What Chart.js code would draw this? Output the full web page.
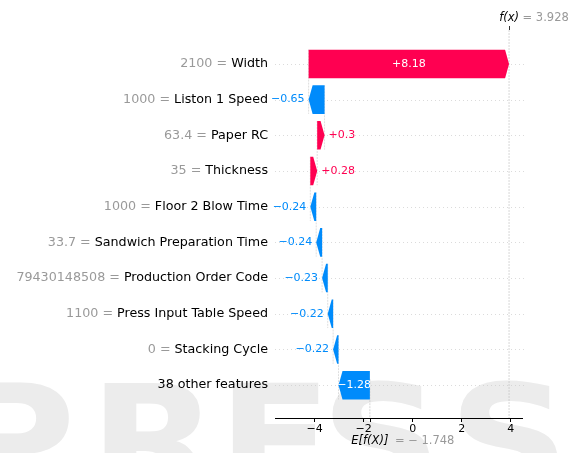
<!DOCTYPE html>
<html>
<head>
<meta charset="utf-8">
<script src="https://cdn.jsdelivr.net/npm/chart.js@4.4.1/dist/chart.umd.min.js"></script>
<style>
  html, body { margin: 0; padding: 0; background: #fff; }
  #wrap { width: 576px; height: 453px; position: relative; }
</style>
</head>
<body>
<div id="wrap"><canvas id="waterfall"></canvas></div>
<script>
// SHAP waterfall – top row first
const features = ['Width', 'Liston 1 Speed', 'Paper RC', 'Thickness', 'Floor 2 Blow Time',
  'Sandwich Preparation Time', 'Production Order Code', 'Press Input Table Speed',
  'Stacking Cycle', '38 other features'];
const featureValues = ['2100', '1000', '63.4', '35', '1000', '33.7', '79430148508', '1100', '0', ''];
const shapValues = [8.18, -0.65, 0.3, 0.28, -0.24, -0.24, -0.23, -0.22, -0.22, -1.28];
const baseValue = -1.748;
const fxValue = 3.928;
const xTicks = [-4, -2, 0, 2, 4];
const xMin = -5.62;
const xMax = 4.46;

const RED = '#ff0051';
const BLUE = '#008bfb';
const GREY = '#999999';
const FONT = 'DejaVu Sans';

// bars run from the bottom row (base value) upwards, so accumulate from the end
const ends = new Array(shapValues.length);
const starts = new Array(shapValues.length);
let acc = baseValue;
for (let i = shapValues.length - 1; i >= 0; i--) {
  starts[i] = acc;
  acc += shapValues[i];
  ends[i] = acc;
}
const fxPos = ends[0];

function fmt(v) {
  const s = Math.abs(v).toString();
  return (v < 0 ? '\u2212' : '+') + s;
}

// faint publisher watermark behind the chart
const watermark = {
  id: 'watermark',
  beforeDraw(chart) {
    const ctx = chart.ctx;
    ctx.save();
    ctx.fillStyle = '#ececec';
    ctx.font = 'bold 150px ' + FONT;
    ctx.textBaseline = 'alphabetic';
    ctx.textAlign = 'center';
    const letters = ['P', 'R', 'E', 'S', 'S'];
    const cx = [14, 154, 275, 381, 509];
    ctx.scale(1.12, 1);
    letters.forEach((l, i) => ctx.fillText(l, cx[i] / 1.12, 492));
    ctx.restore();
  }
};

const guides = {
  id: 'guides',
  beforeDatasetsDraw(chart) {
    const { ctx, chartArea: a, scales: { x, y } } = chart;
    ctx.save();
    // dotted row lines
    ctx.strokeStyle = '#cccccc';
    ctx.lineWidth = 0.7;
    ctx.setLineDash([1, 3]);
    features.forEach((f, i) => {
      const py = Math.round(y.getPixelForValue(i)) + 0.5;
      ctx.beginPath();
      ctx.moveTo(a.left, py);
      ctx.lineTo(a.right + 3, py);
      ctx.stroke();
    });
    // connectors between bars
    ctx.strokeStyle = '#c8c8c8';
    ctx.setLineDash([2, 1]);
    ctx.lineWidth = 0.6;
    for (let i = 0; i < features.length - 1; i++) {
      const px = x.getPixelForValue(starts[i]);
      ctx.beginPath();
      ctx.moveTo(px, y.getPixelForValue(i - 0.4));
      ctx.lineTo(px, y.getPixelForValue(i + 1.4));
      ctx.stroke();
    }
    // f(x) and E[f(X)] lines
    ctx.strokeStyle = '#bbbbbb';
    ctx.setLineDash([2, 1]);
    let px = x.getPixelForValue(fxPos);
    ctx.beginPath();
    ctx.moveTo(px, a.top);
    ctx.lineTo(px, a.bottom);
    ctx.stroke();
    px = x.getPixelForValue(baseValue);
    ctx.beginPath();
    ctx.moveTo(px, a.bottom - a.height / features.length);
    ctx.lineTo(px, a.bottom);
    ctx.stroke();
    ctx.restore();
  }
};

const arrows = {
  id: 'arrows',
  afterDatasetsDraw(chart) {
    const { ctx, scales: { x } } = chart;
    const meta = chart.getDatasetMeta(0);
    ctx.save();
    meta.data.forEach((bar, i) => {
      const x0 = x.getPixelForValue(starts[i]);
      const x1 = x.getPixelForValue(ends[i]);
      const dir = x1 >= x0 ? 1 : -1;
      const len = Math.abs(x1 - x0);
      const head = Math.min(4, len);
      const h = bar.height / 2;
      const cy = bar.y;
      const neck = x1 - dir * head;
      ctx.fillStyle = shapValues[i] >= 0 ? RED : BLUE;
      ctx.beginPath();
      ctx.moveTo(x0, cy - h);
      ctx.lineTo(neck, cy - h);
      ctx.lineTo(x1, cy);
      ctx.lineTo(neck, cy + h);
      ctx.lineTo(x0, cy + h);
      ctx.closePath();
      ctx.fill();

      // value label
      const txt = fmt(shapValues[i]);
      ctx.font = '11px ' + FONT;
      ctx.textBaseline = 'middle';
      const tw = ctx.measureText(txt).width;
      if (tw <= len + 4) {
        ctx.fillStyle = '#ffffff';
        ctx.textAlign = 'center';
        ctx.fillText(txt, (x0 + x1) / 2, cy);
      } else {
        ctx.fillStyle = shapValues[i] >= 0 ? RED : BLUE;
        ctx.textAlign = dir > 0 ? 'left' : 'right';
        ctx.fillText(txt, x1 + dir * 4, cy);
      }
    });
    ctx.restore();
  },
  afterDraw(chart) {
    const { ctx, chartArea: a, scales: { x, y } } = chart;
    ctx.save();
    // feature labels: grey value, black name
    ctx.font = '12.7px ' + FONT;
    ctx.textBaseline = 'middle';
    ctx.textAlign = 'right';
    const lx = a.left - 7;
    features.forEach((f, i) => {
      const py = y.getPixelForValue(i);
      ctx.fillStyle = '#000';
      ctx.fillText(f, lx, py);
      if (featureValues[i] !== '') {
        const w = ctx.measureText(f).width;
        ctx.fillStyle = GREY;
        ctx.fillText(featureValues[i] + ' = ', lx - w, py);
      }
    });

    // top f(x) marker
    const fpx = x.getPixelForValue(fxPos);
    ctx.strokeStyle = '#333';
    ctx.lineWidth = 1;
    ctx.beginPath();
    ctx.moveTo(Math.round(fpx) + 0.5, a.top);
    ctx.lineTo(Math.round(fpx) + 0.5, a.top - 4);
    ctx.stroke();
    ctx.font = 'italic 11.5px ' + FONT;
    ctx.fillStyle = '#000';
    ctx.textAlign = 'center';
    ctx.fillText('f(x)', fpx, a.top - 12);
    ctx.font = '11.5px ' + FONT;
    ctx.fillStyle = GREY;
    ctx.textAlign = 'left';
    ctx.fillText('= ' + fxValue.toFixed(3), fpx + 13.5, a.top - 12);

    // bottom E[f(X)] marker
    const bpx = x.getPixelForValue(baseValue);
    ctx.strokeStyle = '#000';
    ctx.beginPath();
    ctx.moveTo(Math.round(bpx) + 0.5, a.bottom);
    ctx.lineTo(Math.round(bpx) + 0.5, a.bottom + 4);
    ctx.stroke();
    ctx.font = 'italic 11.5px ' + FONT;
    ctx.fillStyle = '#000';
    ctx.textAlign = 'center';
    ctx.fillText('E[f(X)]', bpx, a.bottom + 23);
    ctx.font = '11.5px ' + FONT;
    ctx.fillStyle = GREY;
    ctx.textAlign = 'left';
    ctx.fillText('= \u2212 ' + Math.abs(baseValue).toFixed(3), bpx + 25, a.bottom + 23);
    ctx.restore();
  }
};

new Chart(document.getElementById('waterfall'), {
  type: 'bar',
  data: {
    datasets: [{
      data: features.map((f, i) => ({ x: [starts[i], ends[i]], y: i })),
      backgroundColor: 'rgba(0,0,0,0)',
      borderWidth: 0,
      barPercentage: 0.8,
      categoryPercentage: 1
    }]
  },
  options: {
    indexAxis: 'y',
    responsive: true,
    maintainAspectRatio: false,
    animation: false,
    layout: { padding: { top: 30, right: 54, left: 0, bottom: 0 } },
    plugins: { legend: { display: false }, tooltip: { enabled: false } },
    scales: {
      x: {
        type: 'linear',
        min: xMin,
        max: xMax,
        afterBuildTicks: s => { s.ticks = xTicks.map(v => ({ value: v })); },
        afterFit: s => { s.height = 35; },
        grid: { drawOnChartArea: false, drawTicks: true, tickLength: 4, tickColor: '#000', tickWidth: 1 },
        border: { display: true, color: '#000', width: 1 },
        ticks: {
          color: '#000',
          padding: 1,
          font: { family: FONT, size: 11 },
          callback: v => (v < 0 ? '\u2212' + Math.abs(v) : String(v))
        }
      },
      y: {
        type: 'linear',
        reverse: true,
        offset: false,
        min: -0.95,
        max: 9.92,
        afterBuildTicks: s => { s.ticks = features.map((f, i) => ({ value: i })); },
        afterFit: s => { s.width = 275; },
        grid: { display: false, offset: false },
        border: { display: false },
        ticks: { display: false }
      }
    }
  },
  plugins: [watermark, guides, arrows]
});
</script>
</body>
</html>
